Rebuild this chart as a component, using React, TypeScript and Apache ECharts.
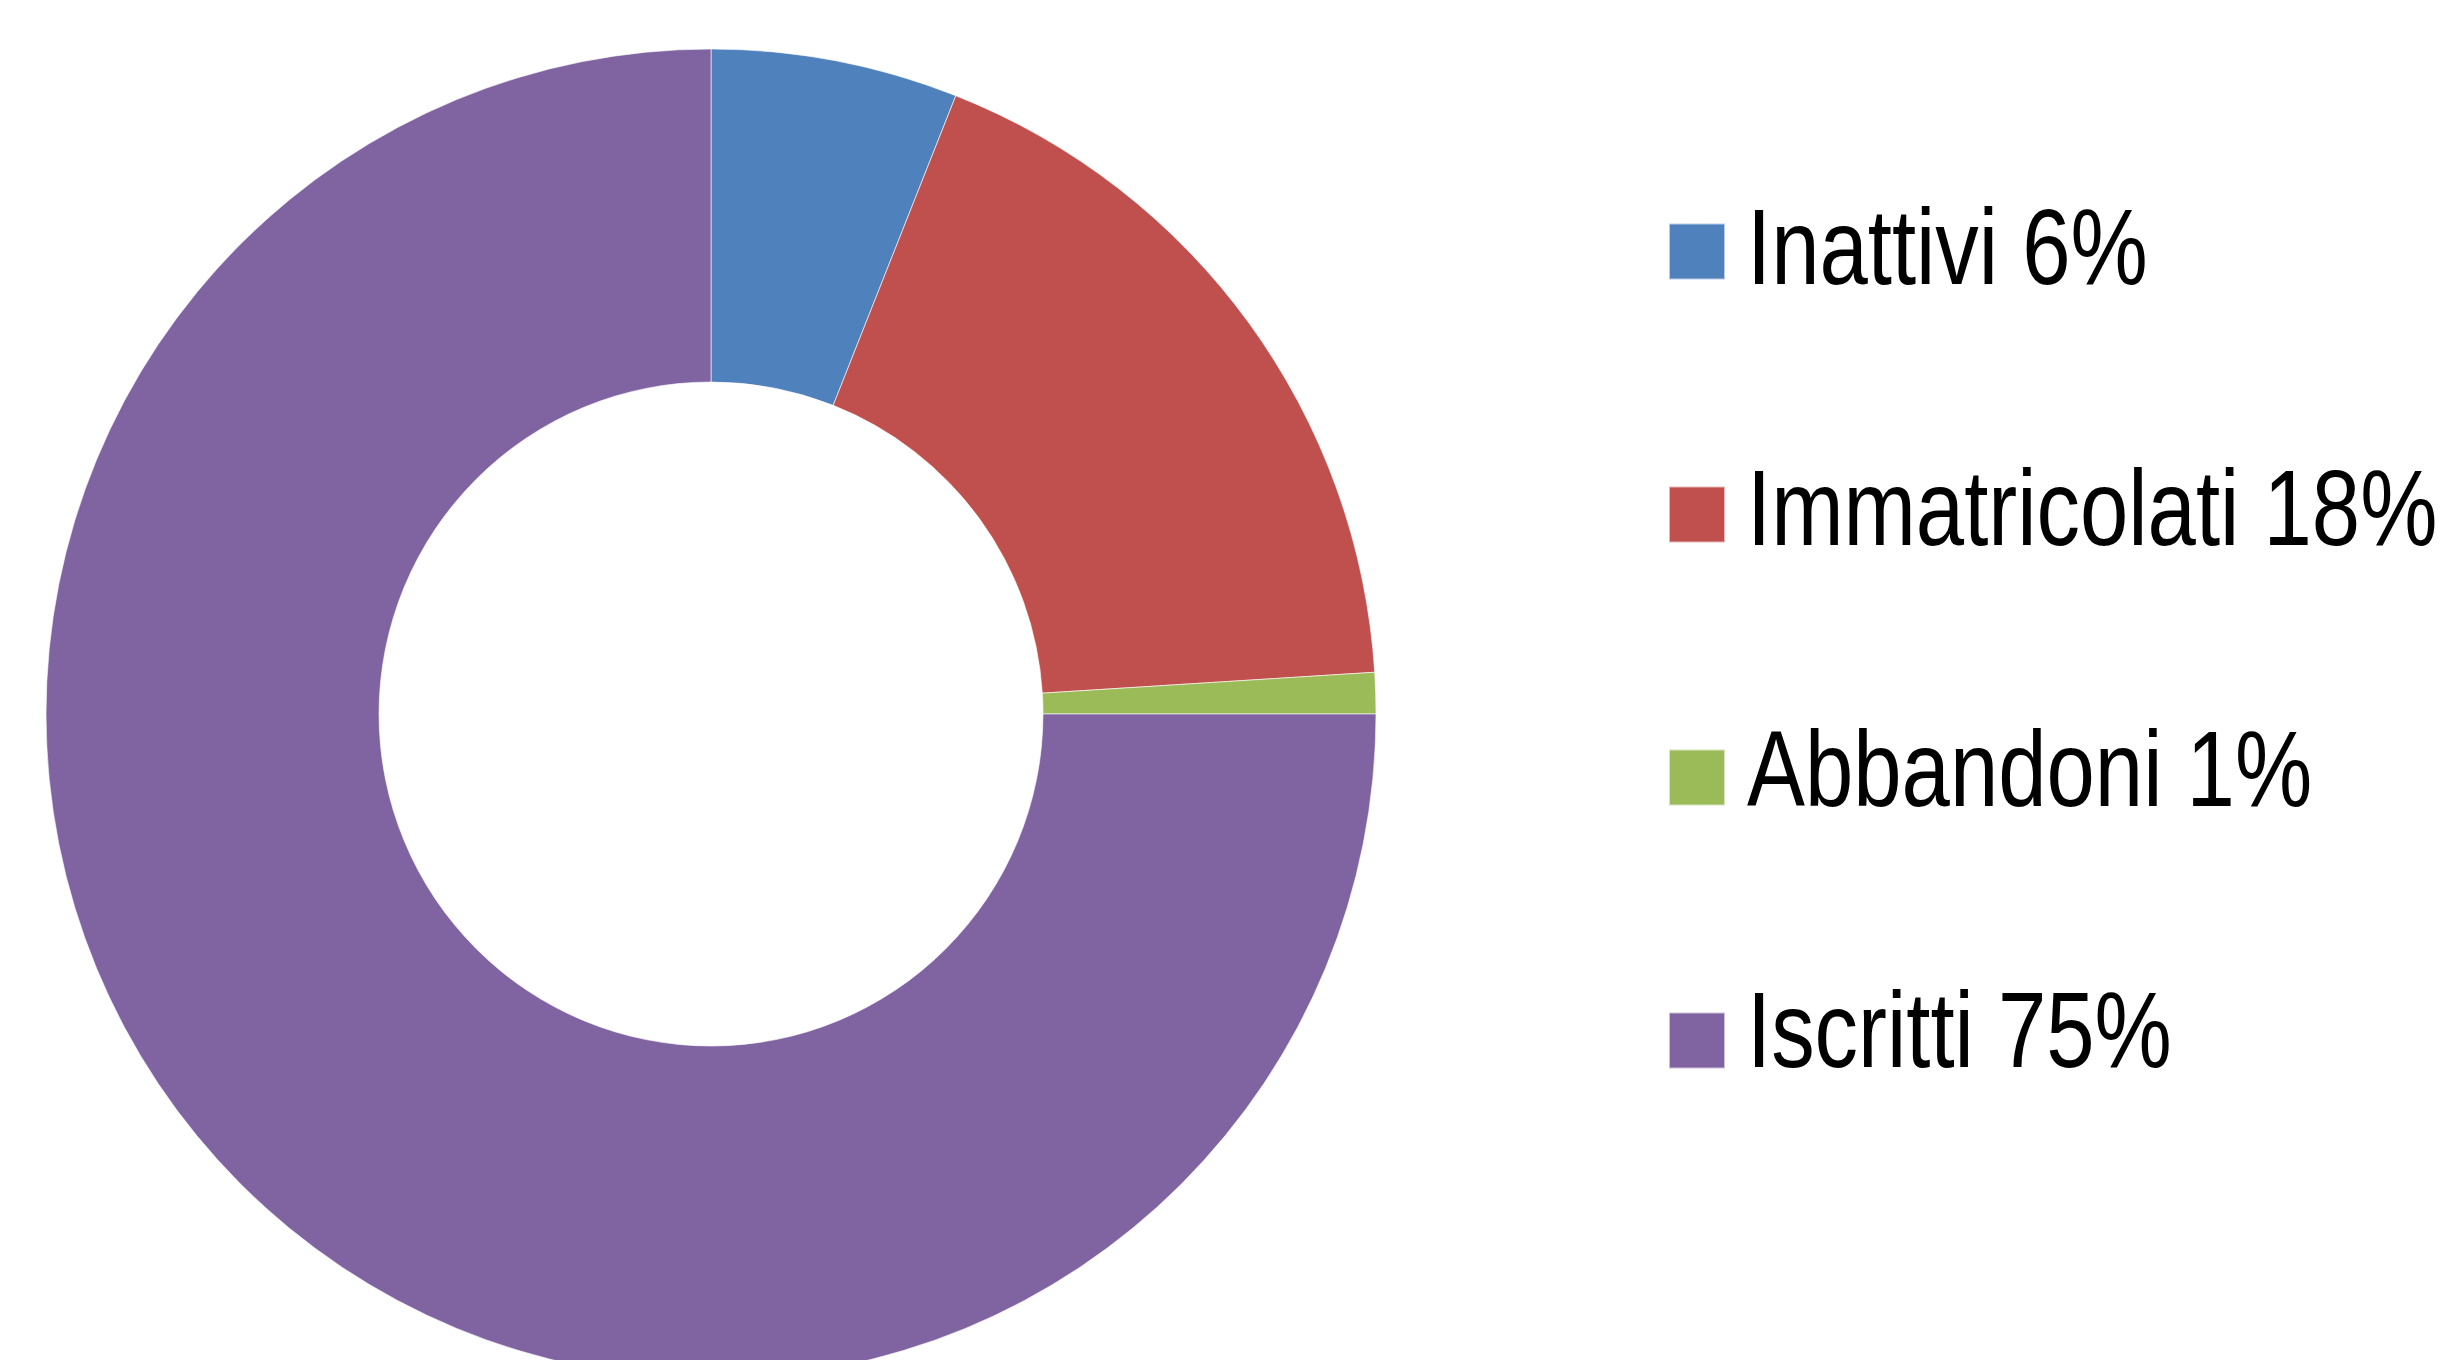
import React, { useEffect, useRef } from "react";
import * as echarts from "echarts";

const categories = ["Inattivi", "Immatricolati", "Abbandoni", "Iscritti"];
const values = [6, 18, 1, 75];
const colors = ["#4F81BD", "#C0504D", "#9BBB59", "#8064A2"];

export default function App() {
  const ref = useRef<HTMLDivElement>(null);
  useEffect(() => {
    if (!ref.current) return;
    const chart = echarts.init(ref.current, undefined, { renderer: "svg" });
    const total = values.reduce((a, b) => a + b, 0);
    const legendTop = 222.5;
    const legendStep = 261;
    const labels = categories.map(
      (c, i) => `${c} ${Math.round((values[i] / total) * 100)}%`
    );
    chart.setOption({
      animation: false,
      backgroundColor: "#ffffff",
      color: colors,
      legend: {
        orient: "vertical",
        left: 1668,
        top: legendTop,
        padding: 0,
        itemWidth: 56,
        itemHeight: 56,
        itemGap: legendStep - 56,
        icon: "rect",
        selectedMode: false,
        data: categories,
        formatter: () => "",
        textStyle: { fontSize: 10, padding: 0 },
      },
      graphic: labels.map((t, i) => ({
        type: "text",
        x: 1747,
        y: legendTop + 28 - 3.5 + i * legendStep,
        scaleX: 0.812,
        scaleY: 1,
        silent: true,
        style: {
          text: t,
          fontFamily: "'Liberation Sans', Arial, sans-serif",
          fontSize: 107,
          fill: "#000000",
          verticalAlign: "middle",
          align: "left",
        },
      })),
      series: [
        {
          type: "pie",
          center: [711, 714],
          radius: [332, 665],
          startAngle: 90,
          clockwise: true,
          avoidLabelOverlap: false,
          label: { show: false },
          labelLine: { show: false },
          emphasis: { disabled: true },
          itemStyle: { borderColor: "rgba(255,255,255,0.6)", borderWidth: 1 },
          data: categories.map((c, i) => ({ name: c, value: values[i] })),
        },
      ],
    });
    return () => chart.dispose();
  }, []);
  return (
    <div
      ref={ref}
      style={{ position: "fixed", left: 0, top: 0, width: 2452, height: 1360 }}
    />
  );
}
